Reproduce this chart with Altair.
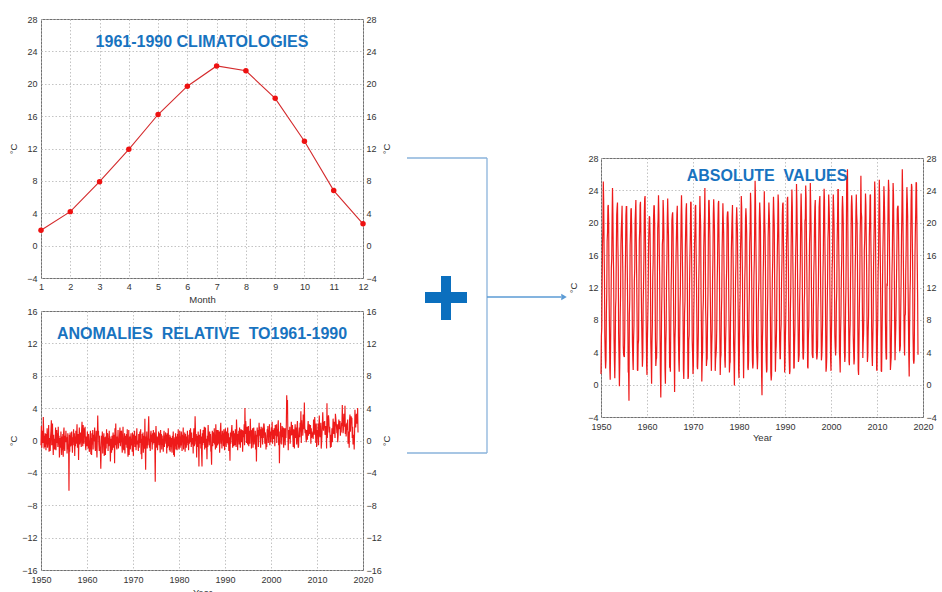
import altair as alt
import pandas as pd

FONT = "Liberation Sans"
TITLE_BLUE = "#1873c0"
LINE_RED = "#ee1a1a"
NB = "\u00a0"

# ---------------- data ----------------
months = list(range(1, 13))
climatology = [1.9, 4.2, 7.9, 11.9, 16.2, 19.7, 22.2, 21.6, 18.2, 12.9, 6.8, 2.7]

clim_ticks = [-4, 0, 4, 8, 12, 16, 20, 24, 28]
anom_ticks = [-16, -12, -8, -4, 0, 4, 8, 12, 16]
year_ticks = [1950, 1960, 1970, 1980, 1990, 2000, 2010, 2020]

# monthly anomalies (deg C, relative to 1961-1990), one row per year
anom_1950s = [
    [-0.6, 1.8, -0.9, 0.4, 1.2, -0.3, 2.9, 1.1, -1.0, 0.6, -0.8, 0.9],
    [0.1, -1.2, 0.8, -0.5, 1.5, -0.9, -0.2, 0.6, 1.9, -1.4, 0.3, -0.7],
    [-1.3, 0.5, 1.2, 2.5, -0.6, 1.0, 2.1, -0.4, -1.8, 0.7, -1.1, 0.2],
    [-1.1, -0.3, 1.6, -1.2, 0.4, 1.3, -0.3, 0.9, -0.8, 1.7, -0.5, 0.6],
    [-2.1, -1.5, 0.3, -0.9, 1.1, -0.4, -1.8, 0.5, -1.2, 0.8, -2.0, 1.0],
    [1.6, -0.8, -1.3, 0.6, -0.2, 1.2, -0.2, 0.4, -1.6, -0.5, 0.9, -1.1],
    [-0.5, -6.2, 0.7, -1.4, 1.0, -0.7, -0.6, 0.2, 1.1, -0.3, -1.5, 0.4],
    [-0.1, 1.4, -0.6, 0.9, -1.9, 0.5, -0.7, 1.2, -0.4, 0.8, 2.0, -0.9],
    [-0.2, 0.8, -2.4, 0.3, 1.6, -0.5, 0.0, 1.0, 0.6, -0.8, 1.3, 2.3],
    [0.3, -0.7, 1.9, 0.6, -0.4, 1.5, 0.8, 1.7, -0.6, -1.2, 0.5, -0.3],
]
anom_1960s = [
    [-0.7, 1.1, 0.2, -1.0, 0.8, -0.6, -1.4, -0.9, 0.4, 1.2, -1.7, 0.3],
    [-1.8, 0.9, -0.5, 1.3, -1.1, 0.7, -0.1, 0.5, 1.6, -0.8, -1.3, -0.4],
    [1.2, -0.9, -2.1, 0.4, 3.1, 0.8, 1.2, -0.5, -1.3, 0.6, -0.7, -1.5],
    [-3.5, -1.2, 0.6, -0.3, 1.1, -1.6, 0.6, -0.2, 0.9, -1.9, 0.4, -0.8],
    [-1.8, 0.5, -1.0, 1.4, -0.4, 0.9, 0.8, -1.3, 0.3, -0.7, 1.2, -0.6],
    [0.5, -2.6, -0.8, 0.2, -1.5, 0.6, -1.2, -0.3, 1.0, -0.9, -0.2, 0.7],
    [-2.8, 1.5, -0.6, 2.1, 0.3, -0.8, -1.1, 0.5, -0.4, 1.3, -1.0, 0.2],
    [-0.3, 0.8, 1.6, -0.7, 0.2, 1.1, 1.2, -0.6, -1.5, 0.4, 1.7, -0.9],
    [-1.2, -0.4, 0.9, -1.6, 0.6, -0.2, -0.5, 0.8, -0.9, 1.4, -0.7, -2.0],
    [-0.9, 1.3, -1.8, 0.5, -0.3, -1.1, 0.4, 0.9, -0.6, 0.2, -1.4, 1.0],
]
anom_1970s = [
    [-0.6, -1.9, 0.7, -0.4, 1.2, -0.8, -0.2, 0.6, -1.2, 0.3, 1.5, -0.5],
    [0.0, -0.6, -1.3, 0.8, -0.9, 0.4, 1.1, -0.3, 1.4, -1.7, 0.2, -2.3],
    [0.8, -0.2, 1.0, -1.5, 0.6, -0.5, -1.0, 2.7, -0.8, -3.6, 0.5, -0.4],
    [1.1, -1.0, 0.3, -0.6, 1.4, 3.0, 0.6, -0.9, 0.2, -1.3, 0.8, 1.2],
    [-0.2, 0.7, -1.1, 0.9, -0.5, 1.3, 0.7, -0.3, 1.0, -0.8, -5.1, 0.4],
    [1.8, 0.3, -0.9, 0.5, -1.2, 0.2, 0.2, 1.1, -0.6, 0.9, -0.4, -1.5],
    [1.3, -0.5, 0.8, -1.1, 0.6, -0.3, 0.2, -1.4, 0.5, 1.2, -0.8, 0.3],
    [0.2, 1.0, -0.4, 0.7, -1.6, 0.9, -0.9, -0.2, 1.5, -0.7, 0.4, -1.2],
    [0.7, -1.4, 0.5, -0.8, 0.3, -1.0, -1.5, 0.6, -0.3, 1.1, -1.8, 0.2],
    [-2.0, 0.4, -0.7, 0.9, -1.1, 0.5, -0.3, -1.2, 0.8, -0.5, 1.4, -0.8],
]
anom_1980s = [
    [-1.1, -0.3, 1.2, -0.9, 0.5, -0.6, 1.1, 0.3, -1.3, 0.7, -0.2, 1.6],
    [-1.1, 0.6, -0.5, 1.0, -1.4, 0.8, -0.4, -0.9, 0.5, -0.3, 1.2, -0.6],
    [-0.1, -1.2, 0.7, -0.4, 1.3, -0.2, 1.5, 0.6, -0.8, 1.0, -0.5, 0.3],
    [0.1, -1.6, 0.9, 1.5, -0.7, 0.4, 3.0, 1.2, -0.5, 0.8, -2.1, 0.6],
    [0.0, -0.8, 1.1, -0.5, -3.2, 0.7, 0.3, -0.4, 1.4, -1.0, 0.5, -1.7],
    [-3.2, 0.9, -0.6, 1.3, -0.3, 0.8, 1.7, -1.1, 0.4, 1.6, -0.9, 0.2],
    [-0.4, -2.3, 0.6, -0.8, 1.9, 0.5, 0.3, -0.6, 1.1, -0.2, 0.8, -1.3],
    [-1.4, -3.0, 0.4, 1.2, -0.7, 0.9, 1.0, -0.3, 1.5, -0.5, 0.7, -1.1],
    [2.0, 0.6, -0.9, 1.3, 0.2, -0.6, 1.3, 0.8, -0.4, 1.1, -1.5, 0.5],
    [1.3, 2.2, -0.4, 0.7, -1.0, 1.2, 0.1, 0.9, -0.7, 1.4, 0.3, -1.2],
]
anom_1990s = [
    [0.7, 1.5, 0.2, -0.8, 1.1, -0.3, 0.8, 1.6, -0.5, 0.9, -1.3, 0.4],
    [-0.6, -2.5, 1.0, -0.4, 0.7, 1.3, 1.9, 0.5, -0.9, 0.3, 1.2, -0.7],
    [0.2, 0.9, -0.6, 1.4, 0.4, -0.8, 2.6, 1.1, 0.5, -1.2, 0.8, 0.1],
    [1.2, -0.5, 1.6, 0.3, -0.9, 1.0, 1.4, -0.2, 0.7, 1.3, -1.4, 0.6],
    [1.2, 0.4, 2.0, -0.6, 4.0, 0.8, 2.4, 1.5, -0.3, 0.9, 1.7, -0.5],
    [0.1, 1.8, -0.7, 0.6, 1.2, -0.4, 2.7, 0.9, 1.3, -1.0, 0.5, 1.1],
    [1.5, -0.9, 0.8, 1.6, -0.5, 0.3, -0.2, 1.2, -1.1, 0.7, -2.6, 0.4],
    [1.6, 0.5, 1.3, -0.8, 1.0, 2.2, 0.6, 1.7, 0.1, -0.9, 1.4, 0.3],
    [1.7, 0.8, -0.5, 1.5, 0.3, 2.1, 2.0, 1.2, -0.4, 1.0, 0.6, -1.1],
    [0.2, -0.8, 1.4, 0.7, 1.8, -0.3, 1.3, 0.5, 2.0, -0.6, 1.1, 0.4],
]
anom_2000s = [
    [-0.2, 1.6, 0.9, 2.3, -0.4, 1.2, 1.3, 0.2, 1.5, 0.8, -0.7, 1.9],
    [1.7, 0.6, 2.0, -0.3, 1.4, 0.5, 1.9, 2.5, -0.6, 1.1, -2.8, 0.3],
    [-0.4, 2.2, 0.7, 1.3, -0.5, 1.8, 1.1, 0.4, 1.6, -0.9, 0.8, 1.5],
    [0.9, -0.6, 1.5, 0.3, 2.1, 5.6, 3.4, 5.0, 0.8, -1.2, 1.3, 0.2],
    [0.5, 1.7, -0.4, 1.2, 0.6, 2.3, 1.2, 0.7, 1.9, 0.4, -0.8, 1.4],
    [0.6, -1.0, 1.1, 2.0, 0.3, 1.6, 1.3, -0.5, 1.8, 2.4, 0.2, -0.9],
    [-0.7, 0.9, 1.6, 0.4, 2.2, 1.1, 3.6, -0.3, 2.5, 1.4, 1.9, 0.6],
    [3.2, 2.1, 1.4, 4.7, 1.8, 0.9, 1.4, 0.6, -0.2, 1.3, 0.5, 0.1],
    [1.7, 2.4, 0.6, 1.3, 2.0, 0.8, 1.2, 1.9, -0.4, 1.5, 0.3, 0.9],
    [0.4, 1.1, 0.2, 2.6, 1.5, 0.7, 2.9, 1.8, 1.2, -0.3, 2.1, -0.8],
]
anom_2010s = [
    [-0.2, 1.3, 0.5, 2.1, -0.6, 1.7, 3.1, 1.0, 0.4, 0.9, 2.2, -1.0],
    [-0.3, 0.8, 1.9, 3.5, 2.0, 1.2, 2.3, 1.6, 2.4, 0.7, 1.1, 1.8],
    [1.2, -1.0, 4.6, 0.3, 1.4, 2.8, 3.1, 2.5, 1.0, 1.7, 0.6, -0.9],
    [0.7, -0.8, 0.4, 1.5, -0.2, 1.1, 2.7, 1.9, 0.8, 2.3, 1.2, 0.3],
    [3.3, 2.8, 2.2, 1.6, 0.9, 2.0, -0.2, 0.5, 1.7, 2.6, 1.8, 1.4],
    [2.4, 0.6, 1.5, 1.0, 2.2, 1.8, 4.4, 2.0, 0.9, 1.4, 3.3, 2.5],
    [1.7, 4.3, 0.8, 2.0, 0.5, 1.6, 2.2, 1.3, 2.6, -0.4, 1.1, 0.7],
    [-0.9, 2.6, 3.2, 1.1, 1.9, 3.0, 2.6, 2.8, 0.3, 1.7, -0.5, 0.4],
    [0.7, -1.1, 0.9, 3.8, 2.5, 1.6, 2.8, 3.3, 2.1, 2.2, 4.0, 1.0],
]

# ---------------- tables ----------------
clim_df = pd.DataFrame({"month": months, "temp": climatology})
one = pd.DataFrame({"k": [0]})

rows = []
for start, block in [(1950, anom_1950s), (1960, anom_1960s), (1970, anom_1970s),
                     (1980, anom_1980s), (1990, anom_1990s), (2000, anom_2000s),
                     (2010, anom_2010s)]:
    for i, vals in enumerate(block):
        for m, a in zip(months, vals):
            rows.append({"t": start + i + (m - 1) / 12.0,
                         "anom": a,
                         "absval": round(climatology[m - 1] + a, 2)})
series_df = pd.DataFrame(rows)

# ---------------- helpers ----------------
GRID = dict(grid=True, gridColor="#b4b4b4", gridDash=[1.5, 2], gridWidth=0.8)


def ax(**kw):
    base = dict(labelFont=FONT, labelFontSize=9, labelColor="#333333",
                titleFont=FONT, titleFontSize=9.5, titleFontWeight="normal",
                titleColor="#333333", ticks=False, tickSize=0, domain=False,
                grid=False, labelFlush=False)
    base.update(kw)
    return alt.Axis(**base)


def title_text(txt, x, y, size=16):
    return alt.Chart(one).mark_text(
        font=FONT, fontSize=size, fontWeight="bold", color=TITLE_BLUE,
        align="center", baseline="middle"
    ).encode(x=alt.value(x), y=alt.value(y), text=alt.value(txt))


W, H = 322, 259

# ---------------- top: climatology ----------------
clim_y = alt.Scale(domain=[-4, 28], nice=False, zero=False)
xm = alt.X("month:Q", scale=alt.Scale(domain=[1, 12], nice=False, zero=False),
           axis=ax(values=months, title="Month", labelPadding=4, titlePadding=3,
                   **GRID))
clim_line = alt.Chart(clim_df).mark_line(color="#d42a2c", strokeWidth=1.1).encode(
    x=xm,
    y=alt.Y("temp:Q", scale=clim_y,
            axis=ax(values=clim_ticks, title="°C", orient="left", labelPadding=4,
                    minExtent=18, maxExtent=18, titlePadding=5, titleAngle=270,
                    **GRID)))
clim_pts = alt.Chart(clim_df).mark_circle(color="#ee1111", size=30, opacity=1).encode(
    x=xm, y=alt.Y("temp:Q", scale=clim_y, axis=None))
clim_right = alt.Chart(clim_df).mark_line(strokeOpacity=0).encode(
    x=xm,
    y=alt.Y("temp:Q", scale=clim_y,
            axis=ax(values=clim_ticks, title="°C", orient="right", labelPadding=3,
                    minExtent=16, maxExtent=16, titlePadding=12, titleAngle=270)))
top = alt.layer(
    clim_line, clim_pts, clim_right,
    title_text("1961-1990 CLIMATOLOGIES", 161, 23)
).resolve_axis(y="independent").properties(width=W, height=H)

# ---------------- bottom: anomalies ----------------
anom_y = alt.Scale(domain=[-16, 16], nice=False, zero=False)
xy_left = alt.X("t:Q", scale=alt.Scale(domain=[1950, 2020], nice=False, zero=False),
                axis=ax(values=year_ticks, title="Year", format="d", labelPadding=5,
                        titlePadding=3, **GRID))
anom_line = alt.Chart(series_df).mark_line(color=LINE_RED, strokeWidth=1.15).encode(
    x=xy_left,
    y=alt.Y("anom:Q", scale=anom_y,
            axis=ax(values=anom_ticks, title="°C", orient="left", labelPadding=4,
                    minExtent=18, maxExtent=18, titlePadding=5, titleAngle=270,
                    **GRID)))
anom_right = alt.Chart(series_df).mark_line(strokeOpacity=0).encode(
    x=xy_left,
    y=alt.Y("anom:Q", scale=anom_y,
            axis=ax(values=anom_ticks, title="°C", orient="right", labelPadding=3,
                    minExtent=16, maxExtent=16, titlePadding=12, titleAngle=270)))
bottom = alt.layer(
    anom_line, anom_right,
    title_text(f"ANOMALIES{NB} RELATIVE{NB} TO1961-1990", 161, 23)
).resolve_axis(y="independent").properties(width=W, height=H)

# ---------------- right: absolute values ----------------
xy_right = alt.X("t:Q", scale=alt.Scale(domain=[1950, 2020], nice=False, zero=False),
                 axis=ax(values=year_ticks, title="Year", format="d", labelPadding=5,
                         titlePadding=1, **GRID))
abs_line = alt.Chart(series_df).mark_line(color=LINE_RED, strokeWidth=1.2).encode(
    x=xy_right,
    y=alt.Y("absval:Q", scale=clim_y,
            axis=ax(values=clim_ticks, title="°C", orient="left", labelPadding=3,
                    minExtent=13, maxExtent=13, titlePadding=10, titleAngle=270,
                    **GRID)))
abs_right = alt.Chart(series_df).mark_line(strokeOpacity=0).encode(
    x=xy_right,
    y=alt.Y("absval:Q", scale=clim_y,
            axis=ax(values=clim_ticks, title=None, orient="right", labelPadding=3)))

# connector graphics (bracket, plus sign, arrow), placed relative to this panel
BR = "#8ab3db"
AR = "#5b9bd5"
PLUS = "#0b6fbe"
br_top = alt.Chart(one).mark_rule(color=BR, strokeWidth=1.3).encode(
    x=alt.value(-194), x2=alt.value(-114), y=alt.value(0))
br_mid = alt.Chart(one).mark_rule(color=BR, strokeWidth=1.3).encode(
    x=alt.value(-114), y=alt.value(0), y2=alt.value(295))
br_bot = alt.Chart(one).mark_rule(color=BR, strokeWidth=1.3).encode(
    x=alt.value(-194), x2=alt.value(-114), y=alt.value(295))
arrow = alt.Chart(one).mark_rule(color=AR, strokeWidth=1.3).encode(
    x=alt.value(-114), x2=alt.value(-40), y=alt.value(139))
head = alt.Chart(one).mark_point(shape="triangle-right", filled=True, size=40,
                                 color=AR, opacity=1).encode(
    x=alt.value(-37), y=alt.value(139))
plus_h = alt.Chart(one).mark_rect(color=PLUS).encode(
    x=alt.value(-176), x2=alt.value(-134), y=alt.value(134), y2=alt.value(145))
plus_v = alt.Chart(one).mark_rect(color=PLUS).encode(
    x=alt.value(-160), x2=alt.value(-150), y=alt.value(118), y2=alt.value(162))

right = alt.layer(
    abs_line, abs_right, title_text(f"ABSOLUTE{NB} VALUES", 166, 18, 16),
    br_top, br_mid, br_bot, arrow, head, plus_h, plus_v
).resolve_axis(y="independent").properties(width=W, height=H)

spacer = alt.Chart(one).mark_point(opacity=0).encode(
    x=alt.value(0), y=alt.value(0)
).properties(width=W, height=133, view=alt.ViewBackground(stroke="transparent"))

chart = alt.hconcat(
    alt.vconcat(top, bottom, spacing=2),
    alt.vconcat(spacer, right, spacing=0),
    spacing=14,
).properties(
    padding={"left": 7, "top": 14, "right": 0, "bottom": 0},
    background="white",
).configure_view(stroke="#6f6f6f", strokeWidth=1)

chart.save("out.html", embed_options={"renderer": "svg", "actions": False})
